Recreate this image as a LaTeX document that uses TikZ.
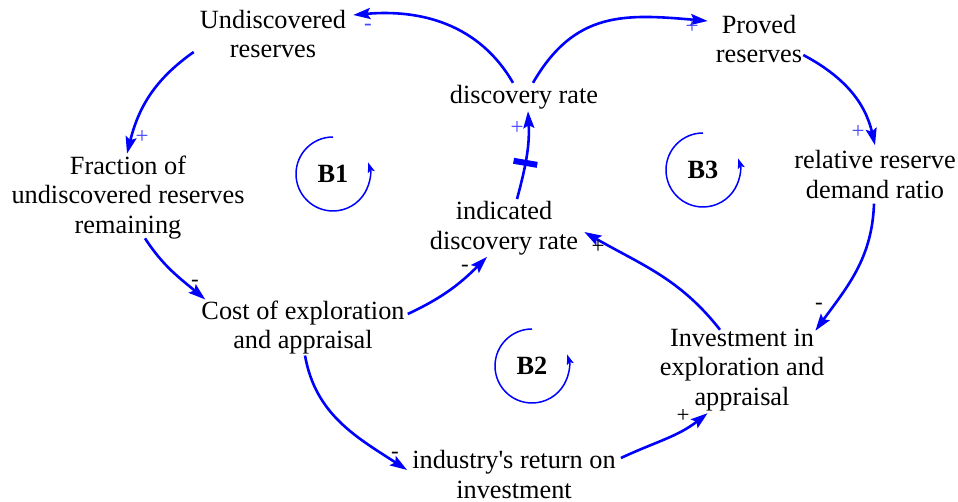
\documentclass[tikz,border=0pt]{standalone}
\usepackage{fontspec}
\setmainfont{Liberation Serif}
\usetikzlibrary{arrows.meta}
\definecolor{linkblue}{RGB}{0,0,255}
\definecolor{signblue}{RGB}{70,70,255}
\begin{document}
\begin{tikzpicture}[x=1pt,y=1pt,
  var/.style={align=center, inner sep=2pt, font=\fontsize{26.3}{29.5}\selectfont},
  link/.style={draw=linkblue, line width=2.6pt, -{Stealth[length=17pt,width=11pt,inset=3pt]}},
  sgn/.style={font=\fontsize{23}{23}\selectfont, inner sep=0pt},
  psign/.style={sgn, text=signblue},
  nsign/.style={sgn, text=black},
  loopline/.style={draw=linkblue, line width=1.5pt, -{Stealth[length=10pt,width=7pt,inset=2pt]}},
  looplabel/.style={font=\fontsize{26.3}{29.5}\selectfont\bfseries, inner sep=0pt},
  delaymark/.style={fill=linkblue, minimum width=6pt, minimum height=24pt, inner sep=0pt}
]
\useasboundingbox (0,0) rectangle (958,502);

% variables
\node[var] (UR) at (273,468) {Undiscovered\\reserves};
\node[var] (DR) at (524,405) {discovery rate};
\node[var] (PR) at (759,463) {Proved\\reserves};
\node[var] (FR) at (128,304.5) {Fraction of\\undiscovered reserves\\remaining};
\node[var] (RR) at (875,327.5) {relative reserve\\demand ratio};
\node[var] (ID) at (504,274) {indicated\\discovery rate};
\node[var] (CE) at (303,174.5) {Cost of exploration\\and appraisal};
\node[var] (IE) at (742,132) {Investment in\\exploration and\\appraisal};
\node[var] (IR) at (514,27.5) {industry\textquotesingle s return on\\investment};

% loops
\node[looplabel] (B1) at (333,328) {B1};
\node[looplabel] (B2) at (532,136) {B2};
\node[looplabel] (B3) at (703,332) {B3};
\draw[loopline] ([yshift=37pt]B1.center) arc[start angle=90, end angle=378, radius=37pt];
\draw[loopline] ([yshift=37pt]B2.center) arc[start angle=90, end angle=378, radius=37pt];
\draw[loopline] ([yshift=37pt]B3.center) arc[start angle=90, end angle=378, radius=37pt];

% connectors
\draw[link] ([xshift=-11pt]DR.north) to[out=120,in=5] ([shift={(5pt,19pt)}]UR.east);
\draw[link] ([xshift=9pt]DR.north) to[out=60,in=175,looseness=1.15] ([shift={(-6pt,18pt)}]PR.west);
\draw[link] ([shift={(-4pt,-18pt)}]UR.west) to[out=215,in=76] ([xshift=-1pt]FR.north);
\draw[link] ([shift={(17pt,3pt)}]FR.south) to[out=-57,in=140] ([shift={(6pt,-1pt)}]CE.north west);
\draw[link] ([shift={(1pt,13.5pt)}]CE.east) to[out=25,in=-135] ([xshift=-17pt]ID.south);
\draw[link] ([xshift=13pt]ID.north) to[out=75,in=-87] node[pos=0.41, sloped, delaymark] (dm) {} ([xshift=4pt]DR.south);
\draw[link] ([shift={(-22pt,-3pt)}]IE.north) to[out=128,in=-30] ([shift={(4pt,-4pt)}]ID.east);
\draw[link] ([shift={(-1pt,-16pt)}]PR.east) to[out=-28,in=103] ([yshift=3pt]RR.north);
\draw[link] ([shift={(-1pt,-3pt)}]RR.south) to[out=-92,in=54] ([shift={(-11pt,-4pt)}]IE.north east);
\draw[link] ([shift={(2pt,1pt)}]CE.south) to[out=-80,in=147] ([shift={(-3pt,4.5pt)}]IR.west);
\draw[link] ([shift={(3pt,16.5pt)}]IR.east) to[out=25,in=-142] ([xshift=50pt]IE.south west);

% polarities
\node[psign] (s1) at (368,475) {-};
\node[psign] (s2) at (692,475) {+};
\node[psign] (s3) at (142,365) {+};
\node[nsign] (s4) at (195,219) {-};
\node[nsign] (s5) at (465,234) {-};
\node[psign] (s6) at (517,374) {+};
\node[nsign] (s7) at (598,255) {+};
\node[psign] (s8) at (858,370) {+};
\node[nsign] (s9) at (819,196) {-};
\node[nsign] (s10) at (395,47) {-};
\node[nsign] (s11) at (683,86) {+};
\end{tikzpicture}
\end{document}
